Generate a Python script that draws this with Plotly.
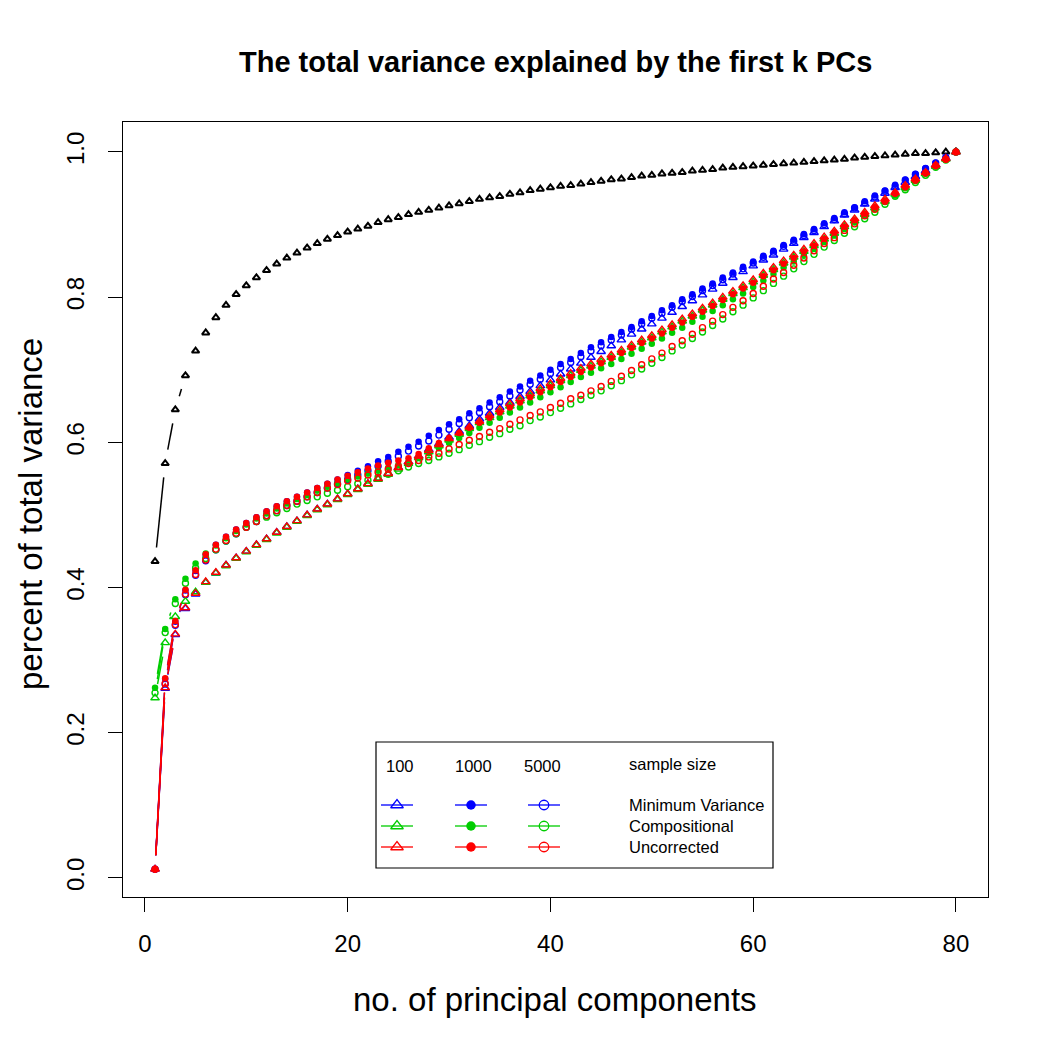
import math
import plotly.graph_objects as go

k = list(range(1, 81))

reference_pc = [
    0.436, 0.571, 0.645, 0.692, 0.726, 0.751, 0.772, 0.789, 0.804, 0.816,
    0.827, 0.837, 0.846, 0.854, 0.861, 0.868, 0.874, 0.880, 0.885, 0.890,
    0.894, 0.898, 0.903, 0.907, 0.910, 0.914, 0.917, 0.920, 0.923, 0.926,
    0.929, 0.932, 0.935, 0.937, 0.939, 0.942, 0.944, 0.947, 0.949, 0.951,
    0.953, 0.954, 0.956, 0.958, 0.960, 0.962, 0.963, 0.965, 0.967, 0.968,
    0.970, 0.971, 0.972, 0.974, 0.975, 0.976, 0.978, 0.979, 0.980, 0.981,
    0.982, 0.983, 0.984, 0.985, 0.986, 0.987, 0.988, 0.989, 0.990, 0.992,
    0.993, 0.994, 0.995, 0.996, 0.997, 0.998, 0.998, 0.999, 1.000, 1.000]

mv_100 = [
    0.012, 0.261, 0.335, 0.371, 0.391, 0.407, 0.420, 0.431, 0.441, 0.450,
    0.459, 0.467, 0.476, 0.484, 0.492, 0.500, 0.508, 0.515, 0.522, 0.529,
    0.536, 0.543, 0.550, 0.557, 0.565, 0.573, 0.581, 0.590, 0.598, 0.607,
    0.615, 0.623, 0.632, 0.640, 0.648, 0.655, 0.663, 0.670, 0.678, 0.686,
    0.694, 0.701, 0.709, 0.717, 0.725, 0.733, 0.741, 0.749, 0.756, 0.763,
    0.771, 0.779, 0.787, 0.795, 0.803, 0.811, 0.819, 0.827, 0.835, 0.843,
    0.851, 0.858, 0.866, 0.874, 0.882, 0.889, 0.897, 0.905, 0.913, 0.920,
    0.928, 0.935, 0.943, 0.951, 0.958, 0.966, 0.974, 0.982, 0.991, 1.000]

mv_1000 = [
    0.012, 0.274, 0.353, 0.396, 0.423, 0.445, 0.459, 0.470, 0.480, 0.489,
    0.497, 0.505, 0.512, 0.519, 0.525, 0.531, 0.537, 0.543, 0.549, 0.555,
    0.561, 0.567, 0.574, 0.580, 0.587, 0.594, 0.601, 0.609, 0.617, 0.625,
    0.632, 0.640, 0.647, 0.655, 0.662, 0.670, 0.677, 0.685, 0.692, 0.700,
    0.708, 0.715, 0.723, 0.731, 0.738, 0.745, 0.752, 0.759, 0.767, 0.774,
    0.782, 0.789, 0.797, 0.804, 0.812, 0.819, 0.827, 0.834, 0.842, 0.849,
    0.857, 0.864, 0.872, 0.879, 0.887, 0.894, 0.902, 0.909, 0.917, 0.924,
    0.932, 0.940, 0.947, 0.955, 0.962, 0.970, 0.978, 0.985, 0.993, 1.000]

mv_5000 = [
    0.012, 0.267, 0.348, 0.390, 0.417, 0.437, 0.452, 0.464, 0.474, 0.483,
    0.491, 0.499, 0.506, 0.513, 0.519, 0.525, 0.531, 0.537, 0.543, 0.549,
    0.555, 0.561, 0.567, 0.574, 0.581, 0.588, 0.595, 0.602, 0.610, 0.618,
    0.626, 0.634, 0.641, 0.649, 0.656, 0.664, 0.672, 0.680, 0.687, 0.695,
    0.703, 0.710, 0.718, 0.726, 0.733, 0.741, 0.748, 0.756, 0.763, 0.771,
    0.778, 0.786, 0.794, 0.801, 0.809, 0.816, 0.824, 0.832, 0.839, 0.847,
    0.855, 0.862, 0.870, 0.877, 0.885, 0.892, 0.900, 0.907, 0.915, 0.923,
    0.930, 0.938, 0.946, 0.953, 0.961, 0.969, 0.977, 0.985, 0.992, 1.000]

comp_100 = [
    0.248, 0.324, 0.360, 0.381, 0.394, 0.407, 0.420, 0.430, 0.440, 0.449,
    0.458, 0.466, 0.475, 0.483, 0.491, 0.499, 0.507, 0.514, 0.521, 0.528,
    0.535, 0.542, 0.549, 0.556, 0.563, 0.571, 0.579, 0.587, 0.595, 0.603,
    0.611, 0.619, 0.627, 0.634, 0.642, 0.650, 0.657, 0.664, 0.671, 0.678,
    0.685, 0.692, 0.699, 0.705, 0.711, 0.717, 0.724, 0.731, 0.738, 0.744,
    0.752, 0.759, 0.767, 0.774, 0.782, 0.789, 0.797, 0.805, 0.813, 0.821,
    0.830, 0.838, 0.847, 0.855, 0.863, 0.871, 0.880, 0.888, 0.897, 0.905,
    0.914, 0.923, 0.932, 0.942, 0.951, 0.961, 0.970, 0.980, 0.990, 1.000]

comp_1000 = [
    0.262, 0.343, 0.384, 0.412, 0.433, 0.447, 0.458, 0.468, 0.478, 0.487,
    0.495, 0.502, 0.509, 0.516, 0.522, 0.528, 0.534, 0.539, 0.544, 0.549,
    0.553, 0.557, 0.561, 0.565, 0.569, 0.573, 0.579, 0.585, 0.592, 0.599,
    0.606, 0.613, 0.620, 0.627, 0.634, 0.641, 0.648, 0.655, 0.662, 0.669,
    0.676, 0.683, 0.690, 0.696, 0.702, 0.708, 0.715, 0.722, 0.729, 0.736,
    0.743, 0.751, 0.758, 0.766, 0.773, 0.781, 0.789, 0.797, 0.805, 0.814,
    0.823, 0.832, 0.841, 0.849, 0.858, 0.867, 0.876, 0.885, 0.894, 0.903,
    0.912, 0.921, 0.931, 0.940, 0.950, 0.960, 0.970, 0.980, 0.990, 1.000]

comp_5000 = [
    0.255, 0.338, 0.378, 0.406, 0.427, 0.440, 0.452, 0.464, 0.474, 0.483,
    0.491, 0.497, 0.503, 0.509, 0.515, 0.520, 0.525, 0.530, 0.534, 0.539,
    0.543, 0.548, 0.552, 0.556, 0.561, 0.566, 0.571, 0.575, 0.580, 0.585,
    0.590, 0.596, 0.601, 0.607, 0.612, 0.618, 0.623, 0.630, 0.635, 0.641,
    0.647, 0.653, 0.659, 0.665, 0.671, 0.678, 0.685, 0.693, 0.701, 0.709,
    0.717, 0.726, 0.734, 0.743, 0.752, 0.761, 0.770, 0.780, 0.789, 0.799,
    0.809, 0.819, 0.829, 0.839, 0.849, 0.859, 0.869, 0.878, 0.888, 0.897,
    0.908, 0.917, 0.928, 0.939, 0.948, 0.958, 0.968, 0.979, 0.989, 1.000]

unc_100 = [
    0.012, 0.262, 0.336, 0.372, 0.392, 0.408, 0.421, 0.431, 0.441, 0.450,
    0.459, 0.467, 0.476, 0.484, 0.492, 0.500, 0.508, 0.515, 0.522, 0.529,
    0.536, 0.543, 0.550, 0.557, 0.565, 0.573, 0.581, 0.589, 0.597, 0.605,
    0.613, 0.621, 0.629, 0.637, 0.645, 0.653, 0.660, 0.667, 0.674, 0.681,
    0.688, 0.695, 0.702, 0.708, 0.714, 0.720, 0.727, 0.734, 0.741, 0.747,
    0.755, 0.762, 0.770, 0.777, 0.785, 0.792, 0.800, 0.808, 0.816, 0.824,
    0.833, 0.841, 0.850, 0.858, 0.866, 0.874, 0.883, 0.891, 0.900, 0.908,
    0.917, 0.926, 0.935, 0.944, 0.954, 0.963, 0.972, 0.982, 0.991, 1.000]

unc_1000 = [
    0.012, 0.275, 0.354, 0.397, 0.424, 0.446, 0.459, 0.470, 0.480, 0.489,
    0.497, 0.505, 0.512, 0.519, 0.525, 0.531, 0.537, 0.543, 0.549, 0.554,
    0.559, 0.564, 0.568, 0.572, 0.575, 0.578, 0.584, 0.592, 0.599, 0.606,
    0.613, 0.620, 0.627, 0.634, 0.641, 0.648, 0.655, 0.662, 0.669, 0.676,
    0.683, 0.690, 0.697, 0.703, 0.709, 0.716, 0.723, 0.730, 0.737, 0.743,
    0.750, 0.758, 0.765, 0.773, 0.780, 0.788, 0.796, 0.804, 0.812, 0.820,
    0.829, 0.837, 0.846, 0.854, 0.863, 0.871, 0.880, 0.889, 0.897, 0.906,
    0.915, 0.924, 0.933, 0.943, 0.952, 0.962, 0.971, 0.981, 0.990, 1.000]

unc_5000 = [
    0.012, 0.268, 0.349, 0.391, 0.418, 0.438, 0.453, 0.465, 0.475, 0.483,
    0.491, 0.499, 0.506, 0.513, 0.519, 0.525, 0.531, 0.537, 0.542, 0.547,
    0.551, 0.555, 0.559, 0.563, 0.567, 0.571, 0.575, 0.580, 0.585, 0.591,
    0.597, 0.603, 0.608, 0.614, 0.619, 0.625, 0.631, 0.637, 0.642, 0.648,
    0.654, 0.660, 0.665, 0.671, 0.677, 0.684, 0.691, 0.699, 0.707, 0.715,
    0.723, 0.732, 0.740, 0.749, 0.758, 0.767, 0.776, 0.786, 0.795, 0.805,
    0.815, 0.825, 0.834, 0.844, 0.854, 0.864, 0.874, 0.882, 0.892, 0.901,
    0.912, 0.921, 0.932, 0.943, 0.952, 0.961, 0.971, 0.981, 0.990, 1.000]

x_ticks = [0, 20, 40, 60, 80]
y_ticks = [0.0, 0.2, 0.4, 0.6, 0.8, 1.0]
y_tick_labels = ["0.0", "0.2", "0.4", "0.6", "0.8", "1.0"]
sample_sizes = ["100", "1000", "5000"]
methods = ["Minimum Variance", "Compositional", "Uncorrected"]

FONT = "Liberation Sans, Arial, Helvetica, sans-serif"
W = H = 1050
ML, MR, MT, MB = 123, 62, 122, 153
PW, PH = W - ML - MR, H - MT - MB
XR = [-2.16, 83.16]
YR = [-0.0262, 1.0413]
SX = PW / (XR[1] - XR[0])
SY = PH / (YR[1] - YR[0])
GAP = 14  # px gap around points (R type="b")

BLUE, GREEN, RED = "#0000FF", "#00CD00", "#FF0000"


def gapped(xs, ys):
    lx, ly = [], []
    for i in range(len(xs) - 1):
        dx = (xs[i + 1] - xs[i]) * SX
        dy = (ys[i + 1] - ys[i]) * SY
        d = math.hypot(dx, dy)
        if d > 2 * GAP:
            f = GAP / d
            lx += [xs[i] + (xs[i + 1] - xs[i]) * f, xs[i + 1] - (xs[i + 1] - xs[i]) * f, None]
            ly += [ys[i] + (ys[i + 1] - ys[i]) * f, ys[i + 1] - (ys[i + 1] - ys[i]) * f, None]
    return lx, ly


series = [
    ("reference", reference_pc, "black", "triangle-up-open", 6.5, 2.0),
    ("MV 100", mv_100, BLUE, "triangle-up-open", 7.5, 1.4),
    ("MV 1000", mv_1000, BLUE, "circle", 6.5, 0),
    ("MV 5000", mv_5000, BLUE, "circle-open", 6, 1.4),
    ("C 100", comp_100, GREEN, "triangle-up-open", 7.5, 1.4),
    ("C 1000", comp_1000, GREEN, "circle", 6.5, 0),
    ("C 5000", comp_5000, GREEN, "circle-open", 6, 1.4),
    ("U 100", unc_100, RED, "triangle-up-open", 7.5, 1.4),
    ("U 1000", unc_1000, RED, "circle", 6.5, 0),
    ("U 5000", unc_5000, RED, "circle-open", 6, 1.4),
]

fig = go.Figure()
for name, vals, col, sym, size, lw in series:
    lx, ly = gapped(k, vals)
    if lx:
        fig.add_trace(go.Scatter(x=lx, y=ly, mode="lines", line=dict(color=col, width=1.5),
                                 hoverinfo="skip", showlegend=False))
    fig.add_trace(go.Scatter(x=k, y=vals, mode="markers", name=name, showlegend=False,
                             marker=dict(symbol=sym, size=size, color=col,
                                         line=dict(color=col, width=lw))))


def px_x(p):
    return (p - ML) / PW


def px_y(p):
    return (H - MB - p) / PH


# legend glyphs drawn on an overlay axis in paper units
leg_cols = [(381, 413), (455, 487), (528, 560)]
leg_rows = [805, 826, 847]
leg_syms = [("triangle-up-open", 11, 1.3), ("circle", 9.5, 0), ("circle-open", 9.5, 1.3)]
leg_colors = [BLUE, GREEN, RED]
for r, rowy in enumerate(leg_rows):
    for c, (x0, x1) in enumerate(leg_cols):
        sym, sz, lw = leg_syms[c]
        col = leg_colors[r]
        fig.add_trace(go.Scatter(x=[px_x(x0), px_x(x1)], y=[px_y(rowy)] * 2, mode="lines",
                                 line=dict(color=col, width=1.3), xaxis="x2", yaxis="y2",
                                 hoverinfo="skip", showlegend=False))
        fig.add_trace(go.Scatter(x=[px_x((x0 + x1) / 2)], y=[px_y(rowy)], mode="markers",
                                 marker=dict(symbol=sym, size=sz, color=col, line=dict(color=col, width=lw)),
                                 xaxis="x2", yaxis="y2", hoverinfo="skip", showlegend=False))

annotations = [
    dict(text="<b>The total variance explained by the first k PCs</b>", x=px_x(555), y=px_y(62),
         xref="paper", yref="paper", xanchor="center", yanchor="middle", showarrow=False,
         font=dict(size=29, family=FONT, color="black")),
    dict(text="no. of principal components", x=px_x(555), y=px_y(1000),
         xref="paper", yref="paper", xanchor="center", yanchor="middle", showarrow=False,
         font=dict(size=33, family=FONT, color="black")),
    dict(text="percent of total variance", x=px_x(30), y=px_y(514), textangle=-90,
         xref="paper", yref="paper", xanchor="center", yanchor="middle", showarrow=False,
         font=dict(size=33, family=FONT, color="black")),
]
for lbl, cx in zip(sample_sizes, [400, 473, 542]):
    annotations.append(dict(text=lbl, x=px_x(cx), y=px_y(766), xref="paper", yref="paper",
                            xanchor="center", yanchor="middle", showarrow=False,
                            font=dict(size=16.5, family=FONT, color="black")))
annotations.append(dict(text="sample size", x=px_x(627), y=px_y(764), xref="paper", yref="paper",
                        xanchor="left", yanchor="middle", showarrow=False,
                        font=dict(size=16.5, family=FONT, color="black")))
for m, rowy in zip(methods, leg_rows):
    annotations.append(dict(text=m, x=px_x(627), y=px_y(rowy), xref="paper", yref="paper",
                            xanchor="left", yanchor="middle", showarrow=False,
                            font=dict(size=16.5, family=FONT, color="black")))

fig.update_layout(
    width=W, height=H,
    margin=dict(l=ML, r=MR, t=MT, b=MB, autoexpand=False),
    paper_bgcolor="white", plot_bgcolor="white",
    font=dict(family=FONT, color="black"),
    showlegend=False,
    xaxis=dict(range=XR, tickvals=x_ticks, ticks="outside", ticklen=14, tickwidth=1.2,
               tickcolor="black", showline=True, mirror=True, linecolor="black", linewidth=1.2,
               showgrid=False, zeroline=False, tickfont=dict(size=24, family=FONT),
               ticklabelstandoff=11),
    yaxis=dict(range=YR, tickvals=y_ticks, ticktext=y_tick_labels, tickangle=-90,
               ticks="outside", ticklen=14, tickwidth=1.2, tickcolor="black", showline=True,
               mirror=True, linecolor="black", linewidth=1.2, showgrid=False, zeroline=False,
               tickfont=dict(size=24, family=FONT), ticklabelstandoff=14),
    xaxis2=dict(overlaying="x", range=[0, 1], visible=False),
    yaxis2=dict(overlaying="y", range=[0, 1], visible=False),
    shapes=[dict(type="rect", xref="paper", yref="paper", x0=px_x(376), x1=px_x(773),
                 y0=px_y(868), y1=px_y(742), line=dict(color="black", width=1.2), layer="above")],
    annotations=annotations,
)

fig.write_html("out.html")
